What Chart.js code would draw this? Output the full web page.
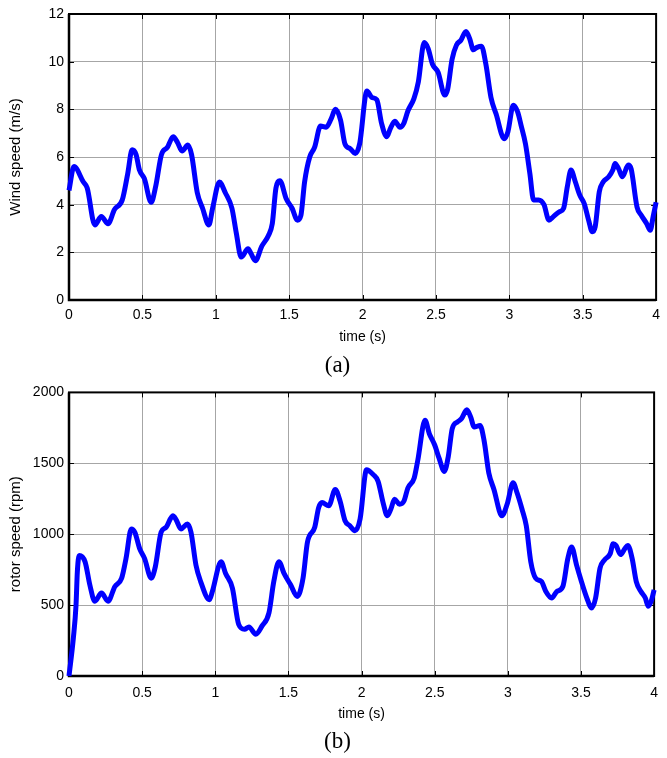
<!DOCTYPE html>
<html>
<head>
<meta charset="utf-8">
<script src="https://cdn.jsdelivr.net/npm/chart.js@4/dist/chart.umd.min.js"></script>
<style>
  html, body { margin: 0; padding: 0; background: #fff; }
  #wrap { position: relative; width: 667px; height: 758px; overflow: hidden; background: #fff; }
  .box { position: absolute; left: 0; width: 667px; height: 379px; }
  .cap { position: absolute; width: 667px; left: 0; text-align: center; font-family: 'Liberation Serif', 'Times New Roman', serif; font-size: 23px; line-height: 26px; color: #000; }
</style>
</head>
<body>
<div id="wrap">
  <div class="box" style="top:0"><canvas id="c1" width="667" height="379"></canvas></div>
  <div class="box" style="top:379px"><canvas id="c2" width="667" height="379"></canvas></div>
  <div class="cap" style="left:4px; top:352px">(a)</div>
  <div class="cap" style="left:4px; top:728px">(b)</div>
</div>
<script>
// ---- data ----
const timeTicks = [0, 0.5, 1, 1.5, 2, 2.5, 3, 3.5, 4];
const windTicks = [0, 2, 4, 6, 8, 10, 12];
const rotorTicks = [0, 500, 1000, 1500, 2000];

const timeA = [0, 0.034, 0.097, 0.124, 0.176, 0.22, 0.266, 0.31, 0.363, 0.4,
  0.43, 0.457, 0.48, 0.513, 0.56, 0.59, 0.63, 0.67, 0.71, 0.74,
  0.77, 0.81, 0.835, 0.874, 0.91, 0.953, 0.98, 1.025, 1.065, 1.11,
  1.14, 1.173, 1.22, 1.24, 1.27, 1.313, 1.358, 1.385, 1.41, 1.437,
  1.48, 1.52, 1.556, 1.58, 1.605, 1.64, 1.673, 1.714, 1.752, 1.786,
  1.815, 1.85, 1.88, 1.916, 1.95, 1.98, 2.03, 2.063, 2.097, 2.13,
  2.165, 2.19, 2.22, 2.255, 2.28, 2.31, 2.35, 2.38, 2.42, 2.447,
  2.476, 2.515, 2.56, 2.58, 2.61, 2.64, 2.67, 2.705, 2.73, 2.755,
  2.78, 2.81, 2.84, 2.875, 2.91, 2.965, 2.99, 3.027, 3.056, 3.08,
  3.11, 3.14, 3.165, 3.2, 3.236, 3.27, 3.3, 3.34, 3.37, 3.395,
  3.42, 3.45, 3.48, 3.51, 3.54, 3.565, 3.585, 3.613, 3.64, 3.677,
  3.705, 3.72, 3.745, 3.77, 3.81, 3.83, 3.87, 3.9, 3.936, 3.96,
  3.98, 4.0];
const windSpeed = [4.6, 5.6, 4.96, 4.7, 3.15, 3.5, 3.2, 3.8, 4.2, 5.3,
  6.3, 6.1, 5.45, 5.1, 4.1, 4.75, 6.1, 6.4, 6.85, 6.6,
  6.25, 6.5, 6.1, 4.5, 3.85, 3.15, 3.9, 4.95, 4.5, 3.85,
  2.8, 1.8, 2.15, 1.95, 1.65, 2.25, 2.7, 3.2, 4.7, 5.0,
  4.25, 3.85, 3.35, 3.55, 4.95, 6.0, 6.4, 7.3, 7.25, 7.6,
  8.0, 7.55, 6.55, 6.35, 6.15, 6.55, 8.77, 8.5, 8.4, 7.4,
  6.85, 7.2, 7.5, 7.25, 7.4, 7.95, 8.45, 9.15, 10.8, 10.55,
  9.9, 9.55, 8.6, 8.85, 10.1, 10.7, 10.9, 11.27, 10.96, 10.5,
  10.6, 10.65, 9.9, 8.5, 7.8, 6.77, 7.05, 8.17, 7.9, 7.33,
  6.55, 5.3, 4.2, 4.2, 4.0, 3.35, 3.5, 3.7, 3.85, 4.75,
  5.45, 4.95, 4.4, 4.05, 3.35, 2.86, 3.07, 4.54, 4.96, 5.17,
  5.45, 5.73, 5.5, 5.17, 5.66, 5.5, 3.9, 3.55, 3.2, 2.93,
  3.5, 4.1];

const timeB = [0, 0.03, 0.048, 0.057, 0.07, 0.11, 0.143, 0.177, 0.222, 0.267,
  0.313, 0.36, 0.39, 0.426, 0.45, 0.483, 0.517, 0.562, 0.59, 0.63,
  0.664, 0.71, 0.73, 0.766, 0.81, 0.834, 0.868, 0.9, 0.96, 0.98,
  1.04, 1.07, 1.117, 1.16, 1.2, 1.23, 1.277, 1.32, 1.367, 1.4,
  1.435, 1.47, 1.515, 1.56, 1.6, 1.63, 1.68, 1.707, 1.73, 1.776,
  1.82, 1.853, 1.887, 1.92, 1.955, 1.99, 2.034, 2.08, 2.113, 2.147,
  2.176, 2.2, 2.226, 2.26, 2.29, 2.317, 2.36, 2.385, 2.434, 2.463,
  2.5, 2.53, 2.566, 2.593, 2.62, 2.656, 2.683, 2.72, 2.746, 2.77,
  2.81, 2.837, 2.87, 2.905, 2.96, 2.995, 3.036, 3.063, 3.097, 3.126,
  3.157, 3.19, 3.23, 3.26, 3.3, 3.335, 3.376, 3.41, 3.436, 3.47,
  3.5, 3.54, 3.573, 3.6, 3.63, 3.66, 3.7, 3.72, 3.74, 3.77,
  3.8, 3.82, 3.85, 3.878, 3.91, 3.94, 3.96, 3.98, 4.0];
const rotorSpeed = [0, 270, 500, 735, 850, 805, 640, 527, 585, 527,
  630, 690, 830, 1037, 1014, 898, 828, 690, 770, 1014,
  1049, 1130, 1107, 1037, 1072, 1014, 782, 666, 538, 596,
  805, 724, 620, 364, 330, 345, 295, 353, 445, 666,
  805, 724, 643, 561, 690, 944, 1049, 1188, 1223, 1200,
  1316, 1234, 1095, 1060, 1025, 1107, 1455, 1420, 1373, 1223,
  1130, 1176, 1246, 1211, 1234, 1327, 1397, 1524, 1803, 1710,
  1629, 1536, 1443, 1548, 1745, 1792, 1815, 1877, 1826, 1756,
  1767, 1664, 1432, 1316, 1130, 1211, 1362, 1292, 1176, 1060,
  805, 690, 666, 596, 550, 596, 631, 828, 910, 782,
  677, 550, 480, 550, 759, 817, 863, 933, 921, 856,
  898, 921, 828, 666, 596, 550, 492, 527, 608];

const xTitle = 'time (s)';
const yTitleA = 'Wind speed (m/s)';
const yTitleB = 'rotor speed (rpm)';

// ---- drawing ----
const FONT = "'Liberation Sans', Arial, sans-serif";

const framePlugin = {
  id: 'matlabFrame',
  beforeDatasetsDraw(chart) {
    const {ctx, chartArea: a, scales} = chart;
    ctx.save();
    // inward tick marks
    ctx.strokeStyle = '#000';
    ctx.lineWidth = 1;
    ctx.beginPath();
    scales.x.ticks.forEach(t => {
      const px = Math.round(scales.x.getPixelForValue(t.value)) + 0.5;
      ctx.moveTo(px, a.bottom); ctx.lineTo(px, a.bottom - 5);
      ctx.moveTo(px, a.top); ctx.lineTo(px, a.top + 5);
    });
    scales.y.ticks.forEach(t => {
      const py = Math.round(scales.y.getPixelForValue(t.value)) + 0.5;
      ctx.moveTo(a.left, py); ctx.lineTo(a.left + 5, py);
      ctx.moveTo(a.right, py); ctx.lineTo(a.right - 5, py);
    });
    ctx.stroke();
    // box
    ctx.lineWidth = 2;
    ctx.strokeRect(a.left, a.top, a.right - a.left, a.bottom - a.top);
    ctx.lineWidth = 2.5;
    ctx.beginPath();
    ctx.moveTo(a.left, a.top); ctx.lineTo(a.left, a.bottom); ctx.lineTo(a.right, a.bottom);
    ctx.stroke();
    ctx.restore();
  }
};

function makeChart(id, xs, ys, yTicks, yTitle, geom) {
  const pts = xs.map((x, i) => ({x: x, y: ys[i]}));
  const yMax = yTicks[yTicks.length - 1];
  return new Chart(document.getElementById(id), {
    type: 'line',
    data: { datasets: [{
      data: pts,
      borderColor: '#0000ff',
      borderWidth: 5,
      pointRadius: 0,
      fill: false,
      cubicInterpolationMode: 'monotone',
      clip: false
    }]},
    options: {
      responsive: false,
      animation: false,
      events: [],
      layout: { padding: { top: geom.top, right: geom.right, left: 0, bottom: 0 } },
      plugins: { legend: { display: false }, tooltip: { enabled: false } },
      scales: {
        x: {
          type: 'linear', min: 0, max: 4,
          afterBuildTicks: s => { s.ticks = timeTicks.map(v => ({value: v})); },
          afterFit: s => { s.height = geom.xh; },
          grid: { color: '#a6a6a6', lineWidth: 1, drawTicks: false },
          border: { display: false },
          ticks: { color: '#000', font: { family: FONT, size: 14 }, padding: geom.xpad, maxRotation: 0,
                   callback: v => String(v) },
          title: { display: true, text: xTitle, color: '#000', font: { family: FONT, size: 14 },
                   padding: { top: 0, bottom: geom.xtb } }
        },
        y: {
          type: 'linear', min: 0, max: yMax,
          afterBuildTicks: s => { s.ticks = yTicks.map(v => ({value: v})); },
          afterFit: s => { s.width = 69; },
          grid: { color: '#a6a6a6', lineWidth: 1, drawTicks: false },
          border: { display: false },
          ticks: { color: '#000', font: { family: FONT, size: 14 }, padding: 5,
                   callback: v => String(v) },
          title: { display: true, text: yTitle, color: '#000', font: { family: FONT, size: 15 },
                   padding: { top: 7, bottom: 0 } }
        }
      }
    },
    plugins: [framePlugin]
  });
}

makeChart('c1', timeA, windSpeed, windTicks, yTitleA, { top: 14, right: 5, xh: 79, xpad: 7, xtb: 33 });
makeChart('c2', timeB, rotorSpeed, rotorTicks, yTitleB, { top: 9, right: 8, xh: 82, xpad: 9, xtb: 35 });
</script>
</body>
</html>
